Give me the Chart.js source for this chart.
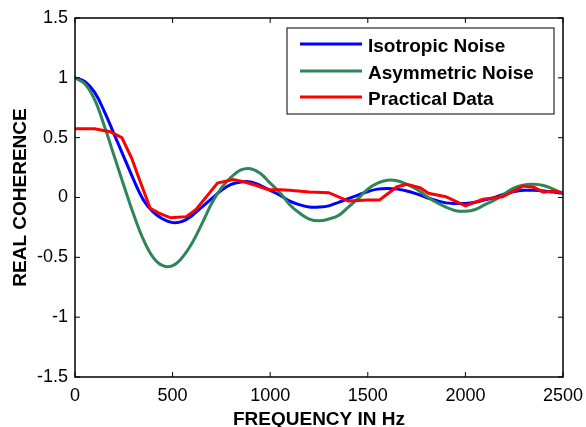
<!DOCTYPE html>
<html>
<head>
<meta charset="utf-8">
<script src="https://cdn.jsdelivr.net/npm/chart.js@4.4.1/dist/chart.umd.min.js"></script>
<style>
  body { margin: 0; background: #fff; }
  #wrap { width: 586px; height: 427px; }
</style>
</head>
<body>
<div id="wrap"><canvas id="cohChart" width="586" height="427"></canvas></div>
<script>
// frequency grid for the model curves (Hz)
const freqs = [0, 50, 100, 150, 200, 250, 300, 350, 400, 450, 500, 550, 600, 650, 700, 750, 800, 850, 900, 950,
  1000, 1050, 1100, 1150, 1200, 1250, 1300, 1350, 1400, 1450, 1500, 1550, 1600, 1650, 1700, 1750, 1800, 1850, 1900, 1950,
  2000, 2050, 2100, 2150, 2200, 2250, 2300, 2350, 2400, 2450, 2500];

const isotropic = [1.00, 0.97, 0.88, 0.72, 0.53, 0.34, 0.15, -0.02, -0.12, -0.18, -0.21, -0.20, -0.15, -0.08, -0.01, 0.06, 0.11, 0.13, 0.13, 0.10,
  0.06, 0.02, -0.03, -0.06, -0.08, -0.08, -0.07, -0.04, -0.01, 0.02, 0.05, 0.07, 0.075, 0.07, 0.055, 0.03, 0.00, -0.025, -0.045, -0.05,
  -0.05, -0.04, -0.02, 0.00, 0.03, 0.05, 0.06, 0.06, 0.055, 0.045, 0.035];

const asymmetric = [1.00, 0.95, 0.82, 0.60, 0.35, 0.10, -0.14, -0.35, -0.50, -0.57, -0.57, -0.50, -0.38, -0.22, -0.05, 0.08, 0.17, 0.23, 0.24, 0.20,
  0.12, 0.04, -0.06, -0.13, -0.18, -0.195, -0.18, -0.15, -0.08, -0.01, 0.07, 0.12, 0.145, 0.14, 0.11, 0.07, 0.01, -0.04, -0.08, -0.11,
  -0.115, -0.10, -0.06, -0.02, 0.03, 0.08, 0.105, 0.11, 0.10, 0.07, 0.035];

// measured data is sampled coarser
const practicalFreqs = [0, 100, 180, 240, 290, 330, 385, 430, 490, 570, 620, 730, 810, 870, 930, 990, 1050, 1100, 1200, 1300,
  1400, 1500, 1560, 1650, 1700, 1770, 1810, 1900, 2000, 2090, 2190, 2295, 2350, 2400, 2450, 2500];
const practical = [0.575, 0.575, 0.55, 0.50, 0.33, 0.15, -0.09, -0.13, -0.17, -0.16, -0.10, 0.12, 0.15, 0.13, 0.10, 0.065, 0.065, 0.06, 0.045, 0.04,
  -0.03, -0.02, -0.02, 0.09, 0.11, 0.08, 0.035, 0.007, -0.07, -0.015, 0.005, 0.095, 0.085, 0.045, 0.055, 0.04];

const xTicks = [0, 500, 1000, 1500, 2000, 2500];
const yTicks = [-1.5, -1, -0.5, 0, 0.5, 1, 1.5];

const seriesNames = ['Isotropic Noise', 'Asymmetric Noise', 'Practical Data'];
const seriesColors = ['#0000ff', '#2e8558', '#ff0000'];

const toPoints = (xs, ys) => xs.map((x, i) => ({ x: x, y: ys[i] }));

const FONT = "'Liberation Sans', Arial, sans-serif";

// matlab style box + inward ticks
const framePlugin = {
  id: 'frame',
  afterDraw(chart) {
    const { ctx, chartArea: a, scales } = chart;
    ctx.save();
    ctx.strokeStyle = '#000';
    ctx.lineWidth = 1.5;
    ctx.strokeRect(a.left, a.top, a.right - a.left, a.bottom - a.top);
    ctx.lineWidth = 1;
    ctx.beginPath();
    const len = 5;
    xTicks.forEach(v => {
      const px = scales.x.getPixelForValue(v);
      ctx.moveTo(px, a.bottom); ctx.lineTo(px, a.bottom - len);
      ctx.moveTo(px, a.top); ctx.lineTo(px, a.top + len);
    });
    yTicks.forEach(v => {
      const py = scales.y.getPixelForValue(v);
      ctx.moveTo(a.left, py); ctx.lineTo(a.left + len, py);
      ctx.moveTo(a.right, py); ctx.lineTo(a.right - len, py);
    });
    ctx.stroke();

    // legend box in the top right corner
    const boxR = a.right - 9, boxT = a.top + 10, boxW = 267, boxH = 86;
    const boxL = boxR - boxW;
    ctx.fillStyle = '#fff';
    ctx.fillRect(boxL, boxT, boxW, boxH);
    ctx.strokeStyle = '#000';
    ctx.lineWidth = 1;
    ctx.strokeRect(boxL, boxT, boxW, boxH);
    const rows = [boxT + 16, boxT + 43, boxT + 69];
    ctx.font = 'bold 19px ' + FONT;
    ctx.textBaseline = 'middle';
    ctx.textAlign = 'left';
    seriesNames.forEach((name, i) => {
      ctx.strokeStyle = seriesColors[i];
      ctx.lineWidth = 3;
      ctx.beginPath();
      ctx.moveTo(boxL + 13, rows[i]);
      ctx.lineTo(boxL + 75, rows[i]);
      ctx.stroke();
      ctx.fillStyle = '#000';
      ctx.fillText(name, boxL + 81, rows[i] + 3);
    });
    ctx.restore();
  }
};

const ctx = document.getElementById('cohChart');

new Chart(ctx, {
  type: 'line',
  data: {
    datasets: [
      { label: seriesNames[0], data: toPoints(freqs, isotropic), borderColor: seriesColors[0], borderWidth: 3, tension: 0.4, order: 3 },
      { label: seriesNames[1], data: toPoints(freqs, asymmetric), borderColor: seriesColors[1], borderWidth: 3, tension: 0.4, order: 2 },
      { label: seriesNames[2], data: toPoints(practicalFreqs, practical), borderColor: seriesColors[2], borderWidth: 3, tension: 0, order: 1 }
    ]
  },
  options: {
    responsive: false,
    animation: false,
    events: [],
    layout: { padding: { top: 18, right: 23, left: 0, bottom: 0 } },
    elements: { point: { radius: 0 } },
    plugins: { legend: { display: false }, tooltip: { enabled: false } },
    scales: {
      x: {
        type: 'linear',
        min: 0, max: 2500,
        afterBuildTicks: s => { s.ticks = xTicks.map(v => ({ value: v })); },
        afterFit: s => { s.height = 50; s.paddingRight = 0; },
        grid: { display: false, drawTicks: false },
        border: { display: false },
        ticks: { color: '#000', padding: 8, font: { family: FONT, size: 18 }, callback: v => String(v) },
        title: { display: true, text: 'FREQUENCY IN Hz', color: '#000', padding: { top: 0, bottom: -2 },
          font: { family: FONT, size: 19, weight: 'bold', lineHeight: 1 } }
      },
      y: {
        type: 'linear',
        min: -1.5, max: 1.5,
        afterBuildTicks: s => { s.ticks = yTicks.map(v => ({ value: v })); },
        afterFit: s => { s.width = 75; s.paddingTop = 0; s.paddingBottom = 0; },
        grid: { display: false, drawTicks: false },
        border: { display: false },
        ticks: { color: '#000', padding: 7, font: { family: FONT, size: 18 }, callback: v => String(v) },
        title: { display: true, text: 'REAL COHERENCE', color: '#000', padding: { top: 11, bottom: 0 },
          font: { family: FONT, size: 19, weight: 'bold', lineHeight: 1 } }
      }
    }
  },
  plugins: [framePlugin]
});
</script>
</body>
</html>
